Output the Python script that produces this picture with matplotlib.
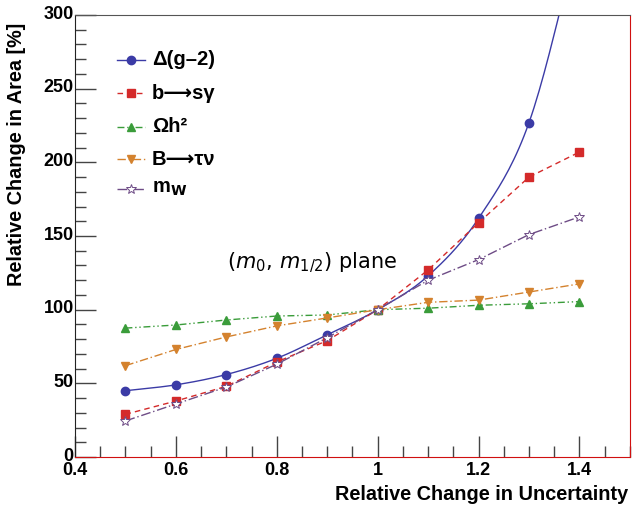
import numpy as np
import matplotlib
matplotlib.use("Agg")
import matplotlib.pyplot as plt
import matplotlib.transforms as mtransforms
from matplotlib.ticker import MultipleLocator

plt.rcParams['font.family'] = ['Liberation Sans', 'DejaVu Sans']

# relative change in uncertainty (x) and area change in percent (y)
scale = [0.5, 0.6, 0.7, 0.8, 0.9, 1.0, 1.1, 1.2, 1.3, 1.4]
g2 = [45, 49, 56, 67, 83, 100, 123, 162, 227, 355]
bsg = [29, 38, 48, 64.5, 79, 100, 127, 159, 190, 207]
oh2 = [87.5, 89.6, 93, 95.7, 96.4, 100, 101, 103, 104, 105.5]
btn = [62, 73, 81.5, 89, 94.4, 100, 105, 106.5, 112, 117.5]
mw = [24.5, 36, 47.5, 63, 81, 100, 120, 134, 151, 163]


def smooth(x, y, n=20):
    # Catmull-Rom curve through the points, like ROOT's "C" draw option
    x = np.asarray(x, float)
    y = np.asarray(y, float)
    px = np.concatenate([[2 * x[0] - x[1]], x, [2 * x[-1] - x[-2]]])
    py = np.concatenate([[2 * y[0] - y[1]], y, [2 * y[-1] - y[-2]]])
    xs, ys = [], []
    t = np.linspace(0, 1, n, endpoint=False)
    for i in range(1, len(px) - 2):
        for p, out in ((px, xs), (py, ys)):
            p0, p1, p2, p3 = p[i - 1], p[i], p[i + 1], p[i + 2]
            out.extend(0.5 * (2 * p1 + (-p0 + p2) * t
                              + (2 * p0 - 5 * p1 + 4 * p2 - p3) * t ** 2
                              + (-p0 + 3 * p1 - 3 * p2 + p3) * t ** 3))
    xs.append(x[-1])
    ys.append(y[-1])
    return xs, ys


fig = plt.figure(figsize=(6.32, 5.05), dpi=100)
ax = fig.add_axes([0.1187, 0.095, 0.878, 0.8753])

blue = '#3b3ba6'
red = '#d42a2a'
green = '#3a9c3a'
orange = '#d4822e'
purple = '#6e4c86'

sx, sy = smooth(scale, g2)
ax.plot(sx, sy, color=blue, lw=1.0)
ax.plot(scale, g2, ls='none', marker='o', ms=6, color=blue)
ax.plot(scale, bsg, color=red, lw=1.0, ls=(0, (4, 3)), marker='s', ms=6)
ax.plot(scale, oh2, color=green, lw=1.0, ls=(0, (5, 2, 1, 2, 1, 2)), marker='^', ms=6)
ax.plot(scale, btn, color=orange, lw=1.0, ls=(0, (6, 2, 1, 2)), marker='v', ms=6)
ax.plot(scale, mw, color=purple, lw=1.0, ls=(0, (7, 2, 1, 2)), marker='*', ms=7,
        mfc='white', mec=purple, mew=0.7)

# legend drawn by hand, ROOT-style
entries = [
    (blue, '-', 'o', 'full', 'Δ(g–2)'),
    (red, (0, (4, 3)), 's', 'full', 'b⟶sγ'),
    (green, (0, (5, 2, 1, 2, 1, 2)), '^', 'full', 'Ωh²'),
    (orange, (0, (6, 2, 1, 2)), 'v', 'full', 'B⟶τν'),
    (purple, (0, (7, 2, 1, 2)), '*', 'none', r'm$_{\mathbf{W}}$'),
]
legend_y = [269.5, 247, 224, 202, 182]
lx0, lx1 = 0.483, 0.539
for (c, ls, m, fill, label), yy in zip(entries, legend_y):
    ax.plot([lx0, lx1], [yy, yy], color=c, ls=ls, lw=1.0)
    if fill == 'none':
        ax.plot([(lx0 + lx1) / 2], [yy], marker=m, ms=7, mfc='white', mec=c, mew=0.7)
    else:
        ax.plot([(lx0 + lx1) / 2], [yy], marker=m, ms=6, color=c)
    ax.text(0.552, yy, label, fontsize=14.5, fontweight='bold', va='center', ha='left')

ax.text(0.87, 132, r'$(m_0,\, m_{1/2})$ plane', fontsize=15, family='DejaVu Sans',
        ha='center', va='center')

ax.set_xlim(0.4, 1.5)
ax.set_ylim(0, 300)
ax.xaxis.set_major_locator(MultipleLocator(0.2))
ax.xaxis.set_minor_locator(MultipleLocator(0.05))
ax.yaxis.set_major_locator(MultipleLocator(50))
ax.yaxis.set_minor_locator(MultipleLocator(10))
ax.xaxis.set_major_formatter(plt.FuncFormatter(lambda v, p: f'{v:g}'))
ax.tick_params(which='both', direction='in', top=False, right=False,
               labelsize=13, width=1.0, color='#444444')
ax.tick_params(which='major', length=15)
ax.tick_params(which='minor', length=8)
ax.tick_params(axis='x', pad=3.5)
ax.tick_params(axis='y', pad=1)
shift_up = mtransforms.ScaledTranslation(0, 2 / 72, fig.dpi_scale_trans)
for t in ax.get_yticklabels():
    t.set_fontweight('bold')
    t.set_transform(t.get_transform() + shift_up)
for t in ax.get_xticklabels():
    t.set_fontweight('bold')

ax.spines['right'].set_color('#d01010')
ax.spines['bottom'].set_color('#d01010')
ax.spines['top'].set_color('#555555')
ax.spines['left'].set_color('#222222')

fig.text(17 / 632, 1 - 23 / 505, 'Relative Change in Area [%]', rotation=90,
         fontsize=14.3, fontweight='bold', ha='center', va='top')
fig.text(628 / 632, 1 - 495 / 505, 'Relative Change in Uncertainty',
         fontsize=14.3, fontweight='bold', ha='right', va='center')

fig.savefig('out.png', dpi=100)
